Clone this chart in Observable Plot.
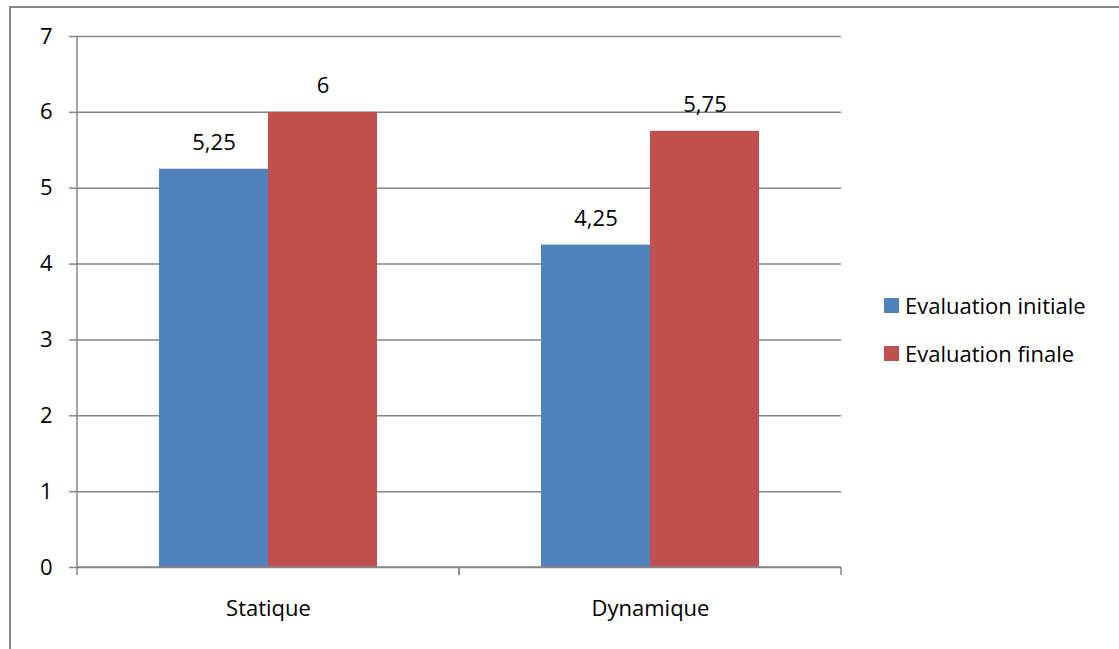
<!DOCTYPE html>
<html>
<head>
<meta charset="utf-8">
<script src="https://cdn.jsdelivr.net/npm/d3@7"></script>
<script src="https://cdn.jsdelivr.net/npm/@observablehq/plot@0.6"></script>
<style>
  html, body { margin: 0; padding: 0; background: #fff; overflow: hidden; }
  #wrap { position: relative; width: 1119px; height: 649px; font-family: "Open Sans", sans-serif; }
  #frame { position: absolute; left: 9px; top: 6px; width: 1200px; height: 700px; border: 2px solid #868686; box-sizing: border-box; }
  #chart { position: absolute; left: 0; top: 0; }
  #legend { position: absolute; left: 884px; top: 290px; font-size: 22px; color: #000; }
  #legend .row { display: flex; align-items: center; height: 30px; margin-bottom: 18px; }
  #legend .sw { width: 15px; height: 15px; margin-right: 6px; }
</style>
</head>
<body>
<div id="wrap">
  <div id="frame"></div>
  <div id="chart"></div>
  <div id="legend"></div>
</div>
<script>
// Catégories, séries et valeurs
const categories = ["Statique", "Dynamique"];
const series = ["Evaluation initiale", "Evaluation finale"];
const initiale = [5.25, 4.25];
const finale = [6, 5.75];
const colors = ["#4F81BD", "#C0504D"];
const yTicks = [0, 1, 2, 3, 4, 5, 6, 7];

const rows = categories.flatMap((c, i) => [
  {cat: c, serie: series[0], value: initiale[i]},
  {cat: c, serie: series[1], value: finale[i]}
]);

const fmt = v => String(v).replace(".", ",");
const gray = "#868686";

// Axe des catégories : ligne de base, graduations aux limites des groupes et axe vertical
const axisLines = Plot.ruleY(categories, {
  fx: d => d,
  y: () => 0,
  render(index, scales, values, dims) {
    const g = d3.create("svg:g");
    const y0 = scales.y(0);
    const x1 = dims.marginLeft;
    const x2 = dims.width - dims.marginRight;
    const line = (ax, ay, bx, by) => g.append("line")
      .attr("x1", ax).attr("y1", ay).attr("x2", bx).attr("y2", by)
      .attr("stroke", gray).attr("stroke-width", 1.5);
    line(x1, y0, x2, y0);
    line(x1, y0, x1, y0 + 8);
    line(x2, y0, x2, y0 + 8);
    if (index.length && index[0] === 0) line(x1, scales.y(7), x1, y0);
    return g.node();
  }
});

const chart = Plot.plot({
  width: 1119,
  height: 649,
  marginLeft: 77,
  marginRight: 278,
  marginTop: 36,
  marginBottom: 82,
  style: {fontFamily: "'Open Sans', sans-serif", fontSize: "22px", color: "#000", background: "transparent"},
  fx: {domain: categories, padding: 0, label: null},
  x: {domain: series, paddingInner: 0, paddingOuter: 0.752, axis: null},
  y: {domain: [0, 7], axis: null},
  color: {domain: series, range: colors},
  marks: [
    Plot.gridY(yTicks, {stroke: gray, strokeOpacity: 1, strokeWidth: 1.5}),
    Plot.axisY(yTicks, {tickSize: 8, tickPadding: 17, stroke: gray, strokeWidth: 1.5, tickFormat: fmt, fontSize: 22, label: null}),
    Plot.barY(rows, {fx: "cat", x: "serie", y: "value", fill: "serie"}),
    axisLines,
    Plot.axisFx({anchor: "bottom", tickSize: 0, tickPadding: 33, fontSize: 22, label: null}),
    Plot.text(rows, {fx: "cat", x: "serie", y: "value", text: d => fmt(d.value), dy: -26, fontSize: 22, fill: "#000"})
  ]
});
document.getElementById("chart").append(chart);

// Légende
const legend = document.getElementById("legend");
series.forEach((s, i) => {
  const row = document.createElement("div");
  row.className = "row";
  const sw = document.createElement("div");
  sw.className = "sw";
  sw.style.background = colors[i];
  const label = document.createElement("span");
  label.textContent = s;
  row.append(sw, label);
  legend.append(row);
});
</script>
</body>
</html>
